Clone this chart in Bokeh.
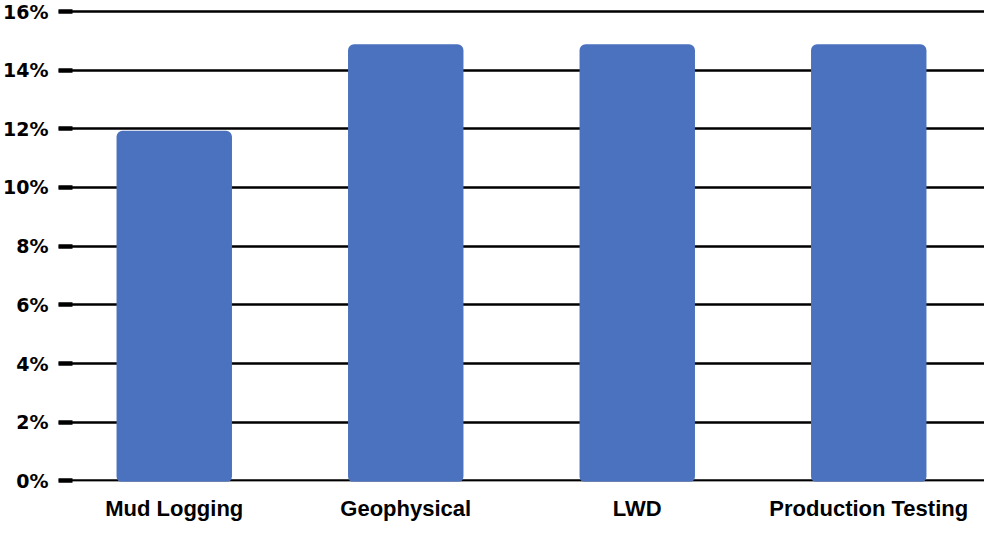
from bokeh.plotting import figure
from bokeh.models import FactorRange, Range1d, SingleIntervalTicker, PrintfTickFormatter
from bokeh.embed import file_html
from bokeh.resources import INLINE

categories = ["Mud Logging", "Geophysical", "LWD", "Production Testing"]
values = [11.9, 14.85, 14.85, 14.85]

p = figure(x_range=FactorRange(*categories, range_padding=0),
           y_range=Range1d(-0.02, 16.1),
           width=984, height=523, output_backend="svg", toolbar_location=None,
           min_border_left=52, min_border_right=0, min_border_top=8, min_border_bottom=0)

p.vbar(x=categories, top=values, width=0.49, bottom=-0.07,
       fill_color="#4B72BE", line_color="#4B72BE", line_width=2, border_radius=5)

p.outline_line_color = None
p.xgrid.grid_line_color = None
p.ygrid.grid_line_color = "black"
p.ygrid.grid_line_width = 2.6
p.ygrid.ticker = SingleIntervalTicker(interval=2)

p.yaxis.ticker = SingleIntervalTicker(interval=2)
p.yaxis.formatter = PrintfTickFormatter(format="%d%%")
p.yaxis.axis_line_color = None
p.yaxis.minor_tick_line_color = None
p.yaxis.major_tick_out = 0
p.yaxis.major_tick_in = 14
p.yaxis.major_tick_line_width = 4.5
p.yaxis.major_tick_line_color = "black"
p.yaxis.major_label_standoff = 6
p.yaxis.major_label_text_font = "DejaVu Sans"
p.yaxis.major_label_text_font_style = "bold"
p.yaxis.major_label_text_font_size = "19px"
p.yaxis.major_label_text_color = "black"

p.xaxis.axis_line_color = None
p.xaxis.major_tick_line_color = None
p.xaxis.minor_tick_line_color = None
p.xaxis.major_label_standoff = 8
p.xaxis.major_label_text_font = "Liberation Sans"
p.xaxis.major_label_text_font_style = "bold"
p.xaxis.major_label_text_font_size = "22px"
p.xaxis.major_label_text_color = "black"

open("out.html", "w").write(file_html(p, INLINE))
